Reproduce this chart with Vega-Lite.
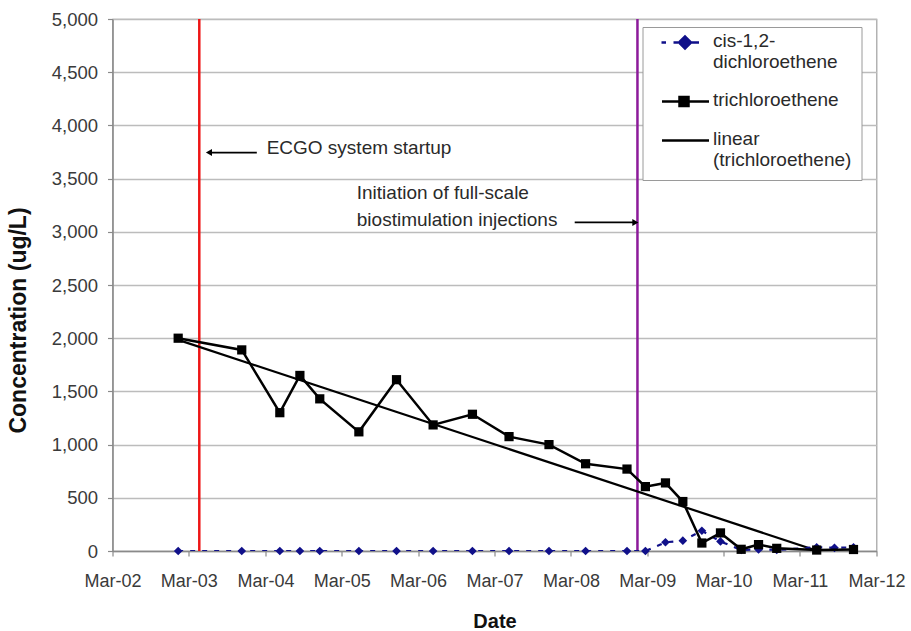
{
  "$schema": "https://vega.github.io/schema/vega-lite/v6.json",
  "width": 764,
  "height": 532,
  "autosize": {"type": "none"},
  "padding": {"left": 112.5, "top": 19, "right": 34.5, "bottom": 80},
  "background": "white",
  "config": {
    "font": "Liberation Sans",
    "view": {"stroke": "#a0a0a0", "strokeWidth": 1.2},
    "axis": {
      "labelFont": "Liberation Sans",
      "labelFontSize": 18,
      "labelColor": "#3a3a3a",
      "titleFont": "Liberation Sans",
      "titleFontWeight": "bold",
      "titleColor": "#111111",
      "domainColor": "#8a8a8a",
      "domainWidth": 1.5,
      "tickColor": "#8a8a8a",
      "tickWidth": 1.2,
      "tickSize": 5
    }
  },
  "datasets": {
    "samples": [
      {"date": "2003/01/09", "series": "tce", "conc": 2000},
      {"date": "2003/11/09", "series": "tce", "conc": 1890},
      {"date": "2004/05/09", "series": "tce", "conc": 1300},
      {"date": "2004/08/13", "series": "tce", "conc": 1650},
      {"date": "2004/11/16", "series": "tce", "conc": 1430},
      {"date": "2005/05/22", "series": "tce", "conc": 1120},
      {"date": "2005/11/18", "series": "tce", "conc": 1610},
      {"date": "2006/05/12", "series": "tce", "conc": 1185},
      {"date": "2006/11/16", "series": "tce", "conc": 1285},
      {"date": "2007/05/10", "series": "tce", "conc": 1075},
      {"date": "2007/11/17", "series": "tce", "conc": 1000},
      {"date": "2008/05/10", "series": "tce", "conc": 820},
      {"date": "2008/11/24", "series": "tce", "conc": 770},
      {"date": "2009/02/20", "series": "tce", "conc": 605},
      {"date": "2009/05/27", "series": "tce", "conc": 640},
      {"date": "2009/08/18", "series": "tce", "conc": 465},
      {"date": "2009/11/17", "series": "tce", "conc": 75},
      {"date": "2010/02/14", "series": "tce", "conc": 170},
      {"date": "2010/05/24", "series": "tce", "conc": 16},
      {"date": "2010/08/15", "series": "tce", "conc": 60},
      {"date": "2010/11/10", "series": "tce", "conc": 25},
      {"date": "2011/05/20", "series": "tce", "conc": 9},
      {"date": "2011/11/12", "series": "tce", "conc": 14},
      {"date": "2003/01/09", "series": "cis", "conc": 0},
      {"date": "2003/11/09", "series": "cis", "conc": 0},
      {"date": "2004/05/09", "series": "cis", "conc": 0},
      {"date": "2004/08/13", "series": "cis", "conc": 0},
      {"date": "2004/11/16", "series": "cis", "conc": 0},
      {"date": "2005/05/22", "series": "cis", "conc": 0},
      {"date": "2005/11/18", "series": "cis", "conc": 0},
      {"date": "2006/05/12", "series": "cis", "conc": 0},
      {"date": "2006/11/16", "series": "cis", "conc": 0},
      {"date": "2007/05/10", "series": "cis", "conc": 0},
      {"date": "2007/11/17", "series": "cis", "conc": 0},
      {"date": "2008/05/10", "series": "cis", "conc": 0},
      {"date": "2008/11/24", "series": "cis", "conc": 0},
      {"date": "2009/02/20", "series": "cis", "conc": 0},
      {"date": "2009/05/27", "series": "cis", "conc": 82},
      {"date": "2009/08/18", "series": "cis", "conc": 97},
      {"date": "2009/11/17", "series": "cis", "conc": 190},
      {"date": "2010/02/14", "series": "cis", "conc": 90},
      {"date": "2010/05/24", "series": "cis", "conc": 10},
      {"date": "2010/08/15", "series": "cis", "conc": 15},
      {"date": "2010/11/10", "series": "cis", "conc": 10},
      {"date": "2011/05/20", "series": "cis", "conc": 35},
      {"date": "2011/08/13", "series": "cis", "conc": 30},
      {"date": "2011/11/12", "series": "cis", "conc": 35}
    ],
    "legendItems": [
      {"series": "cis"},
      {"series": "tce"},
      {"series": "lin"}
    ]
  },
  "encoding": {
    "x": {
      "field": "date",
      "type": "temporal",
      "scale": {"domain": [{"year": 2002, "month": 3, "date": 1}, {"year": 2012, "month": 3, "date": 1}]},
      "axis": {
        "title": "Date",
        "titleFontSize": 20,
        "format": "%b-%y",
        "grid": false,
        "labelFlush": false,
        "labelPadding": 16,
        "titlePadding": 21,
        "labelOverlap": false,
        "values": [
          {"year": 2002, "month": 3, "date": 1},
          {"year": 2003, "month": 3, "date": 1},
          {"year": 2004, "month": 3, "date": 1},
          {"year": 2005, "month": 3, "date": 1},
          {"year": 2006, "month": 3, "date": 1},
          {"year": 2007, "month": 3, "date": 1},
          {"year": 2008, "month": 3, "date": 1},
          {"year": 2009, "month": 3, "date": 1},
          {"year": 2010, "month": 3, "date": 1},
          {"year": 2011, "month": 3, "date": 1},
          {"year": 2012, "month": 3, "date": 1}
        ]
      }
    },
    "y": {
      "field": "conc",
      "type": "quantitative",
      "scale": {"domain": [0, 5000], "nice": false},
      "axis": {
        "title": "Concentration (ug/L)",
        "titleFontSize": 23,
        "titleX": -94.5,
        "titleY": 301,
        "titleAngle": -90,
        "titleAlign": "center",
        "titleBaseline": "middle",
        "format": ",d",
        "values": [0, 500, 1000, 1500, 2000, 2500, 3000, 3500, 4000, 4500, 5000],
        "grid": true,
        "gridColor": "#bcbcbc",
        "gridWidth": 1.5,
        "labelFontSize": 18.5,
        "labelPadding": 10
      }
    }
  },
  "layer": [
    {
      "data": {"values": [{"date": "2003/04/20"}]},
      "mark": {"type": "rule", "color": "#ee1515", "strokeWidth": 2.5},
      "encoding": {"y": null}
    },
    {
      "data": {"values": [{"date": "2009/01/13"}]},
      "mark": {"type": "rule", "color": "#8c1a9a", "strokeWidth": 2.5},
      "encoding": {"y": null}
    },
    {
      "data": {"name": "samples"},
      "transform": [{"filter": "datum.series === 'tce'"}, {"regression": "conc", "on": "date"}],
      "mark": {"type": "line", "color": "#000000", "strokeWidth": 2.2, "clip": true}
    },
    {
      "data": {"name": "samples"},
      "transform": [{"filter": "datum.series === 'cis'"}],
      "mark": {"type": "line", "color": "#10108a", "strokeWidth": 2.2, "strokeDash": [5, 7], "clip": true}
    },
    {
      "data": {"name": "samples"},
      "transform": [{"filter": "datum.series === 'cis'"}],
      "mark": {"type": "point", "shape": "diamond", "filled": true, "color": "#10108a", "size": 75, "opacity": 1}
    },
    {
      "data": {"name": "samples"},
      "transform": [{"filter": "datum.series === 'tce'"}],
      "mark": {"type": "line", "color": "#000000", "strokeWidth": 2.5}
    },
    {
      "data": {"name": "samples"},
      "transform": [{"filter": "datum.series === 'tce'"}],
      "mark": {"type": "point", "shape": "square", "filled": true, "color": "#000000", "size": 85, "opacity": 1}
    },
    {
      "data": {"values": [{"from": "2004/01/20", "to": "2003/06/12", "conc": 3745}, {"from": "2008/03/19", "to": "2008/12/28", "conc": 3088}]},
      "mark": {"type": "rule", "color": "#000000", "strokeWidth": 1.8},
      "encoding": {
        "x": {"field": "from", "type": "temporal"},
        "x2": {"field": "to"},
        "y": {"field": "conc", "type": "quantitative"}
      }
    },
    {
      "data": {"values": [{"date": "2003/06/05", "conc": 3745}]},
      "mark": {"type": "point", "shape": "triangle-left", "filled": true, "color": "#000000", "size": 50, "opacity": 1}
    },
    {
      "data": {"values": [{"date": "2009/01/03", "conc": 3088}]},
      "mark": {"type": "point", "shape": "triangle-right", "filled": true, "color": "#000000", "size": 50, "opacity": 1}
    },
    {
      "data": {"values": [
        {"date": "2004/03/07", "conc": 3790, "label": "ECGO system startup"},
        {"date": "2005/05/12", "conc": 3362, "label": "Initiation of full-scale"},
        {"date": "2005/05/12", "conc": 3107, "label": "biostimulation injections"}
      ]},
      "mark": {"type": "text", "align": "left", "baseline": "middle", "fontSize": 19, "color": "#2a2a2a", "font": "Liberation Sans"},
      "encoding": {"text": {"field": "label"}}
    },
    {
      "data": {"name": "legendItems"},
      "mark": {"type": "point", "filled": false, "size": 4, "opacity": 0, "strokeWidth": 2.5},
      "encoding": {
        "x": null,
        "y": null,
        "color": {
          "field": "series",
          "type": "nominal",
          "scale": {"domain": ["cis", "tce", "lin"], "range": ["#10108a", "#000000", "#000000"]},
          "legend": {
            "title": null,
            "orient": "none",
            "legendX": 530,
            "legendY": 8,
            "padding": 10,
            "strokeColor": "#9a9a9a",
            "fillColor": "#ffffff",
            "symbolSize": 4,
            "symbolOffset": 23.5,
            "symbolStrokeWidth": 2.5,
            "symbolOpacity": 1,
            "labelFont": "Liberation Sans",
            "labelFontSize": 19,
            "labelColor": "#2a2a2a",
            "labelLimit": 300,
            "labelOffset": 18,
            "labelBaseline": "alphabetic",
            "rowPadding": 18,
            "labelExpr": "datum.value === 'cis' ? ['cis-1,2-', 'dichloroethene'] : datum.value === 'tce' ? 'trichloroethene' : ['linear', '(trichloroethene)']",
            "encode": {
              "labels": {
                "enter": {"lineHeight": {"value": 22}},
                "update": {"lineHeight": {"value": 22}}
              }
            }
          }
        },
        "shape": {
          "field": "series",
          "type": "nominal",
          "scale": {
            "domain": ["cis", "tce", "lin"],
            "range": [
              "M-24,-4H-19.5M-12,-4H-7.5M6,-4H13.5M-6.5,-4L-0.5,-10L5.5,-4L-0.5,2ZM-4.3,-4L-0.5,-7.8L3.3,-4L-0.5,-0.2ZM-2.1,-4L-0.5,-5.6L1.1,-4L-0.5,-2.4Z",
              "M-23.5,-4H23.5M-6,-8.5H3V0.5H-6ZM-4,-6.5H1V-1.5H-4ZM-2.2,-4.7H-0.8V-3.3H-2.2Z",
              "M-23.5,-4H23.5"
            ]
          }
        }
      }
    }
  ]
}
